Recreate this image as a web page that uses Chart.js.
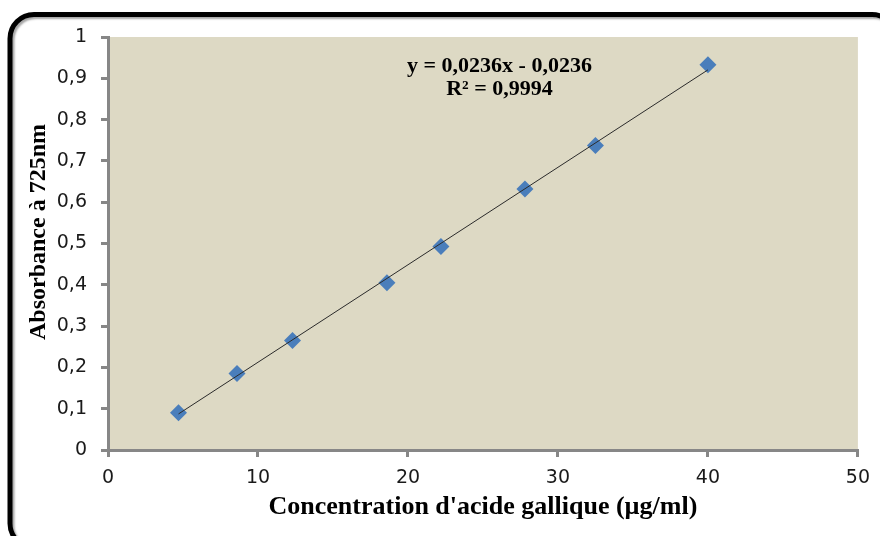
<!DOCTYPE html>
<html>
<head>
<meta charset="utf-8">
<script src="https://cdn.jsdelivr.net/npm/chart.js@4"></script>
<style>
  html, body { margin: 0; padding: 0; background: #fff; }
  #wrap { width: 880px; height: 536px; }
</style>
</head>
<body>
<div id="wrap"><canvas id="grafica" width="880" height="536"></canvas></div>
<script>
// concentration (µg/ml) and absorbance
const concentrations = [4.7, 8.6, 12.3, 18.6, 22.2, 27.8, 32.5, 40];
const absorbances = [0.09, 0.185, 0.265, 0.405, 0.493, 0.632, 0.737, 0.933];

// trendline shown on the chart
const pente = 0.0236;
const ordonnee = -0.0236;
const equation = ['y = 0,0236x - 0,0236', 'R² = 0,9994'];

const xTicks = [0, 10, 20, 30, 40, 50];
const yTicks = [0, 0.1, 0.2, 0.3, 0.4, 0.5, 0.6, 0.7, 0.8, 0.9, 1];

const xMin = Math.min(...concentrations);
const xMax = Math.max(...concentrations);
const trendline = [xMin, xMax].map(x => ({ x: x, y: pente * x + ordonnee }));

const points = concentrations.map((c, i) => ({ x: c, y: absorbances[i] }));

const axisGray = '#878787';

const decor = {
    id: 'decor',
    beforeDraw(chart) {
        const ctx = chart.ctx;
        const a = chart.chartArea;
        ctx.save();
        ctx.fillStyle = '#fff';
        ctx.fillRect(0, 0, chart.width, chart.height);
        // outer rounded frame (runs off the right and bottom edges)
        ctx.shadowColor = 'rgba(0,0,0,0.35)';
        ctx.shadowOffsetX = 2;
        ctx.shadowOffsetY = 2;
        ctx.shadowBlur = 2;
        ctx.strokeStyle = '#000';
        ctx.lineWidth = 5;
        ctx.beginPath();
        ctx.roundRect(10, 14.5, 886, 533, 24);
        ctx.stroke();
        ctx.restore();
        // plot background
        ctx.save();
        ctx.fillStyle = '#DDD9C4';
        ctx.fillRect(a.left, a.top, a.right - a.left, a.bottom - a.top);
        ctx.restore();
    },
    afterDraw(chart) {
        const ctx = chart.ctx;
        const x = chart.scales.x, y = chart.scales.y;
        ctx.save();
        ctx.fillStyle = '#000';
        ctx.textAlign = 'center';
        ctx.textBaseline = 'middle';
        ctx.font = 'bold 22px "Liberation Serif", "Times New Roman", serif';
        ctx.fillText(equation[0], x.getPixelForValue(26.1), y.getPixelForValue(0.930));
        ctx.fillText(equation[1], x.getPixelForValue(26.1), y.getPixelForValue(0.874));
        // y axis title
        ctx.font = 'bold 24px "Liberation Serif", "Times New Roman", serif';
        ctx.translate(39, 232);
        ctx.rotate(-Math.PI / 2);
        ctx.fillText('Absorbance à 725nm', 0, 0);
        ctx.restore();
    }
};

new Chart(document.getElementById('grafica').getContext('2d'), {
    type: 'scatter',
    data: {
        datasets: [
            {
                type: 'line',
                data: trendline,
                borderColor: '#2b2b2b',
                borderWidth: 1,
                pointRadius: 0,
                fill: false,
                order: 0
            },
            {
                data: points,
                pointStyle: 'rectRot',
                pointRadius: 8.5,
                pointHoverRadius: 8.5,
                backgroundColor: '#4A7EBB',
                borderColor: '#4A7EBB',
                borderWidth: 0,
                order: 1
            }
        ]
    },
    options: {
        responsive: false,
        animation: false,
        events: [],
        layout: { padding: { left: 0, right: 22, top: 37, bottom: 0 } },
        plugins: {
            legend: { display: false },
            tooltip: { enabled: false }
        },
        scales: {
            x: {
                type: 'linear',
                min: 0,
                max: 50,
                afterFit(scale) { scale.height = 86; },
                afterBuildTicks(scale) { scale.ticks = xTicks.map(v => ({ value: v })); },
                border: { color: axisGray, width: 3 },
                grid: { drawOnChartArea: false, drawTicks: true, tickLength: 7, color: axisGray, lineWidth: 3 },
                ticks: {
                    color: '#1a1a1a',
                    padding: 10,
                    maxRotation: 0,
                    font: { family: '"DejaVu Sans", Verdana, sans-serif', size: 19 }
                },
                title: {
                    display: true,
                    text: "Concentration d'acide gallique (µg/ml)",
                    color: '#000',
                    padding: { top: 0, bottom: 13 },
                    font: { family: '"Liberation Serif", "Times New Roman", serif', size: 26, weight: 'bold' }
                }
            },
            y: {
                type: 'linear',
                min: 0,
                max: 1,
                afterFit(scale) { scale.width = 108; },
                afterBuildTicks(scale) { scale.ticks = yTicks.map(v => ({ value: v })); },
                border: { color: axisGray, width: 3 },
                grid: { drawOnChartArea: false, drawTicks: true, tickLength: 7, color: axisGray, lineWidth: 3 },
                ticks: {
                    color: '#1a1a1a',
                    padding: 14,
                    font: { family: '"DejaVu Sans", Verdana, sans-serif', size: 19 },
                    callback: v => String(Math.round(v * 10) / 10).replace('.', ',')
                }
            }
        }
    },
    plugins: [decor]
});
</script>
</body>
</html>
